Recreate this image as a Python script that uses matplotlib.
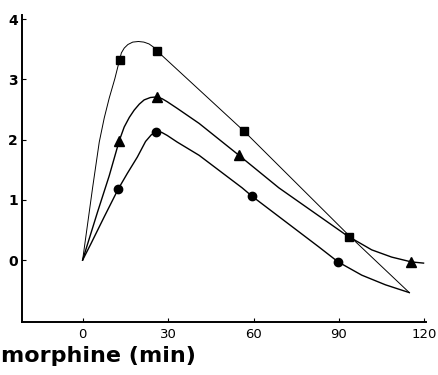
import matplotlib
matplotlib.use("Agg")
import matplotlib.pyplot as plt

# marker values
sq_t = [13.0, 26.2, 56.7, 93.7]
sq_v = [3.32, 3.47, 2.14, 0.38]
tri_t = [12.8, 26.0, 54.9, 115.4]
tri_v = [1.98, 2.71, 1.74, -0.03]
circ_t = [12.5, 25.9, 59.5, 89.7]
circ_v = [1.18, 2.13, 1.06, -0.03]

# hand-drawn fitted curves, traced point by point
sq_curve_t = [0, 1.75, 3.5, 5.84, 7.59, 9.34, 11.3, 12.95, 13.6, 14.6, 15.9, 17.6, 19.6, 21.5, 23.3, 24.8, 26.2,
              56.7, 93.7, 114.7]
sq_curve_v = [0, 0.60, 1.20, 1.96, 2.36, 2.69, 3.01, 3.32, 3.44, 3.52, 3.58, 3.62, 3.63, 3.62, 3.59, 3.54, 3.47,
              2.14, 0.40, -0.54]
tri_curve_t = [0, 1.5, 5.25, 9.34, 12.84, 14.6, 16.4, 18.1, 19.9, 21.6, 23.8, 26.0, 27.9, 29.7, 33.2, 40.9,
               54.9, 68.9, 92.7, 101.5, 108.5, 115.4, 119.7]
tri_curve_v = [0, 0.23, 0.80, 1.40, 1.98, 2.21, 2.37, 2.49, 2.59, 2.66, 2.70, 2.71, 2.68, 2.63, 2.52, 2.27,
               1.74, 1.20, 0.41, 0.17, 0.05, -0.03, -0.05]
circ_curve_t = [0, 2.9, 7.6, 12.5, 15.7, 19.2, 22.1, 24.1, 25.9, 27.8, 29.7, 33.2, 40.9, 56.0, 59.5, 82.9,
                89.7, 98.0, 106.3, 114.7]
circ_curve_v = [0, 0.27, 0.72, 1.18, 1.44, 1.71, 1.97, 2.08, 2.13, 2.12, 2.07, 1.96, 1.74, 1.20, 1.06, 0.22,
                -0.03, -0.25, -0.41, -0.54]

xticks = [0, 30, 60, 90, 120]
yticks = [0, 1, 2, 3, 4]

fig = plt.figure(figsize=(4.39, 3.75), dpi=100)
ax = fig.add_axes([0.050, 0.141, 0.920, 0.819])

ax.plot(sq_curve_t, sq_curve_v, color="black", lw=0.7)
ax.plot(tri_curve_t, tri_curve_v, color="black", lw=1.0)
ax.plot(circ_curve_t, circ_curve_v, color="black", lw=1.0)

ax.plot(sq_t, sq_v, "s", color="black", ms=5.5, ls="none")
ax.plot(tri_t, tri_v, "^", color="black", ms=6.5, ls="none")
ax.plot(circ_t, circ_v, "o", color="black", ms=6, ls="none")

ax.set_xlim(-21.3, 120.5)
ax.set_ylim(-1.03, 4.07)

for s in ["top", "right"]:
    ax.spines[s].set_visible(False)
for s in ["left", "bottom"]:
    ax.spines[s].set_linewidth(1.4)

ax.set_xticks(xticks)
ax.set_yticks(yticks)
ax.set_yticklabels([str(v) for v in yticks], fontweight="bold", fontsize=10)
ax.set_xticklabels([str(v) for v in xticks], fontsize=9.5)
ax.tick_params(direction="in", length=3, width=0.8, pad=4)
ax.tick_params(axis="y", pad=3)

fig.text(0.002, 0.035, "morphine (min)", fontsize=16, fontweight="bold", ha="left", va="baseline")

fig.savefig("out.png", dpi=100)
